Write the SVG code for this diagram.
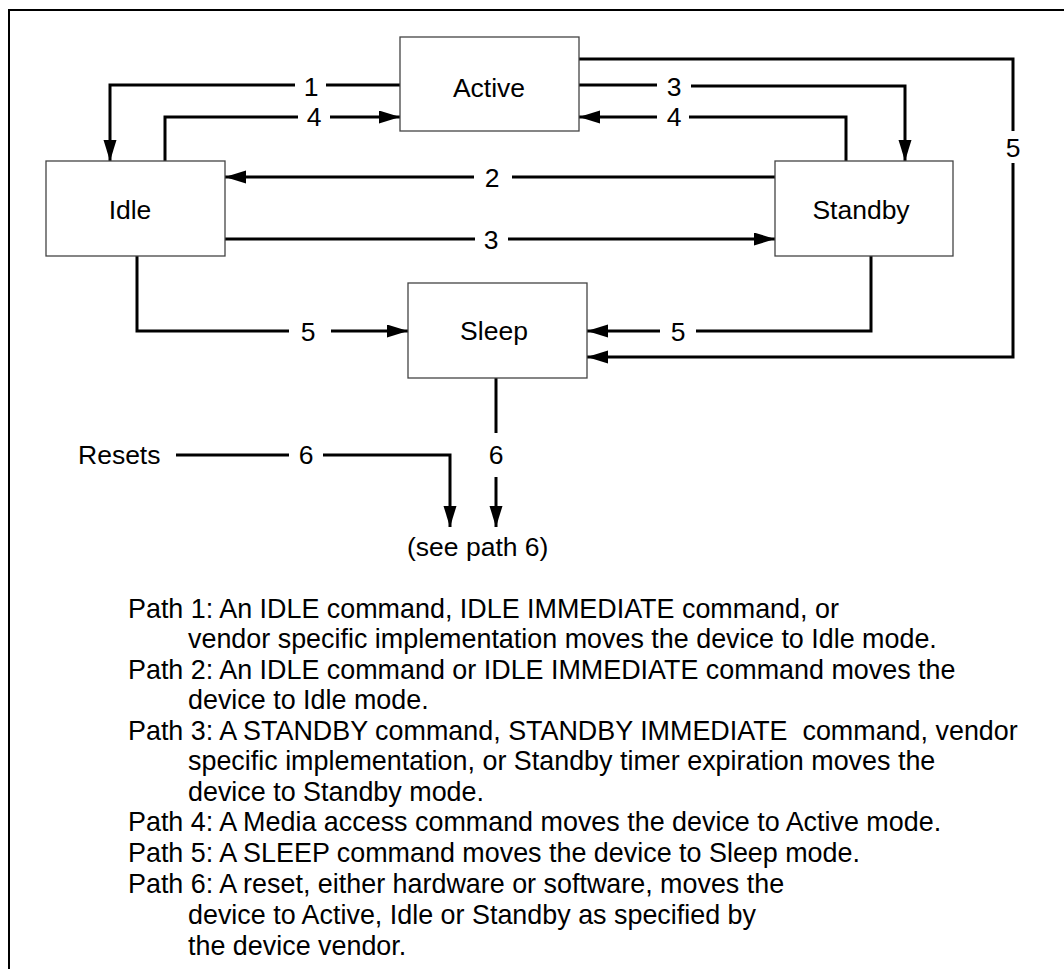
<svg xmlns="http://www.w3.org/2000/svg" width="1064" height="969" viewBox="0 0 1064 969">
<style>
text{font-family:"Liberation Sans",Arial,sans-serif;font-size:26.5px;fill:#000}
.box{fill:#fff;stroke:#444;stroke-width:1.3}
.c{fill:none;stroke:#000;stroke-width:3}
.mid{text-anchor:middle}
.note{white-space:pre;font-size:26.9px}
</style>
<defs>
<marker id="ah" markerUnits="userSpaceOnUse" markerWidth="22" markerHeight="14" refX="21" refY="6.5" orient="auto">
<path d="M0,0 L21,6.5 L0,13 z" fill="#000"/>
</marker>
</defs>
<rect width="1064" height="969" fill="#fff"/>
<path d="M9,969 V10 H1064" fill="none" stroke="#000" stroke-width="2"/>

<g id="connectors">
<path class="c" d="M400,85 H326"/>
<path class="c" d="M295,85 H110 V161" marker-end="url(#ah)"/>
<path class="c" d="M165,161 V117 H298"/>
<path class="c" d="M330,117 H400" marker-end="url(#ah)"/>
<path class="c" d="M775,177 H512"/>
<path class="c" d="M474,177 H225" marker-end="url(#ah)"/>
<path class="c" d="M225,239 H475"/>
<path class="c" d="M508,239 H775" marker-end="url(#ah)"/>
<path class="c" d="M579,85 H657"/>
<path class="c" d="M691,86 H905 V161" marker-end="url(#ah)"/>
<path class="c" d="M846,161 V117 H689"/>
<path class="c" d="M657,117 H579" marker-end="url(#ah)"/>
<path class="c" d="M579,59 H1013 V131"/>
<path class="c" d="M1013,163 V357 H587" marker-end="url(#ah)"/>
<path class="c" d="M137,256 V331 H289"/>
<path class="c" d="M331,331 H408" marker-end="url(#ah)"/>
<path class="c" d="M871,256 V331 H696"/>
<path class="c" d="M660,331 H587" marker-end="url(#ah)"/>
<path class="c" d="M496,378 V433"/>
<path class="c" d="M496,477 V527" marker-end="url(#ah)"/>
<path class="c" d="M176,455 H289"/>
<path class="c" d="M323,455 H450 V527" marker-end="url(#ah)"/>
<text class="mid" x="311" y="96">1</text>
<text class="mid" x="314" y="126">4</text>
<text class="mid" x="492" y="187">2</text>
<text class="mid" x="491" y="249">3</text>
<text class="mid" x="674" y="96">3</text>
<text class="mid" x="674" y="126">4</text>
<text class="mid" x="1013" y="157">5</text>
<text class="mid" x="308" y="341">5</text>
<text class="mid" x="678" y="341">5</text>
<text class="mid" x="496" y="464">6</text>
<text class="mid" x="306" y="464">6</text>
</g>

<g id="active"><rect class="box" x="400" y="37" width="179" height="94"/><text class="mid" x="489" y="97">Active</text></g>
<g id="idle"><rect class="box" x="46" y="161" width="179" height="95"/><text class="mid" x="130" y="219">Idle</text></g>
<g id="standby"><rect class="box" x="775" y="161" width="178" height="95"/><text class="mid" x="861" y="219">Standby</text></g>
<g id="sleep"><rect class="box" x="408" y="283" width="179" height="95"/><text class="mid" x="494" y="340">Sleep</text></g>
<g id="resets"><text x="78" y="464">Resets</text></g>
<g id="see-path-6"><text x="407" y="556">(see path 6)</text></g>

<g id="notes">
<text class="note" x="128" y="617.5">Path 1: An IDLE command, IDLE IMMEDIATE command, or</text>
<text class="note" x="188" y="648">vendor specific implementation moves the device to Idle mode.</text>
<text class="note" x="128" y="678.5">Path 2: An IDLE command or IDLE IMMEDIATE command moves the</text>
<text class="note" x="188" y="709">device to Idle mode.</text>
<text class="note" x="128" y="739.5">Path 3: A STANDBY command, STANDBY IMMEDIATE  command, vendor</text>
<text class="note" x="188" y="770">specific implementation, or Standby timer expiration moves the</text>
<text class="note" x="188" y="800.5">device to Standby mode.</text>
<text class="note" x="128" y="831">Path 4: A Media access command moves the device to Active mode.</text>
<text class="note" x="128" y="861.5">Path 5: A SLEEP command moves the device to Sleep mode.</text>
<text class="note" x="128" y="892.5">Path 6: A reset, either hardware or software, moves the</text>
<text class="note" x="188" y="923.5">device to Active, Idle or Standby as specified by</text>
<text class="note" x="188" y="954.5">the device vendor.</text>
</g>
</svg>
